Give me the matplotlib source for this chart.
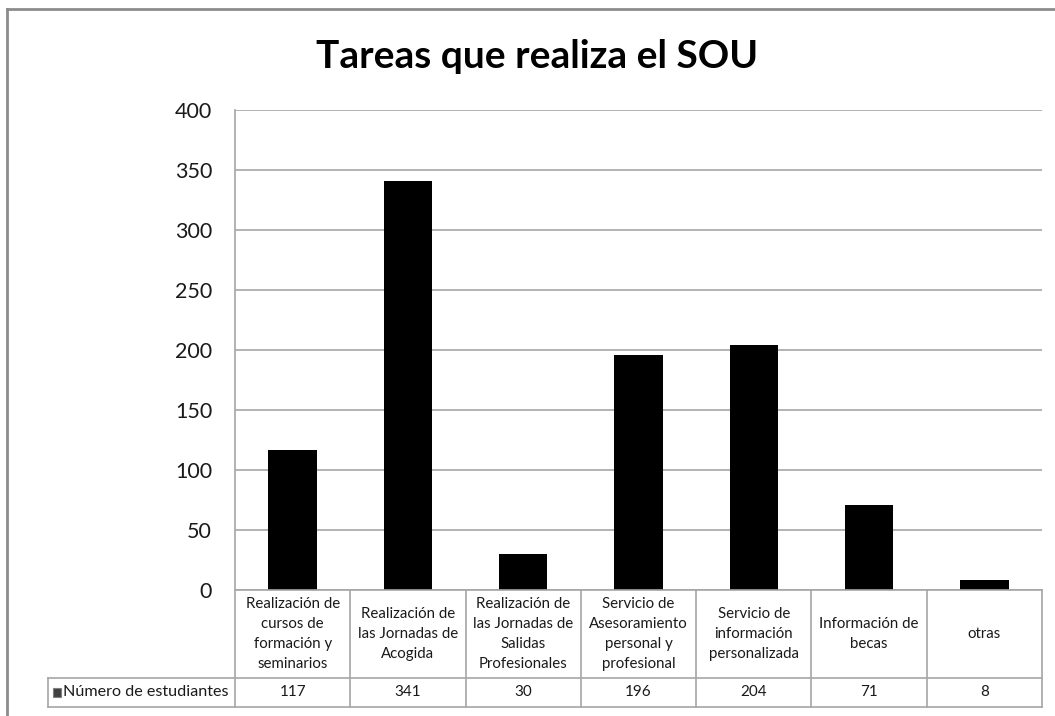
import matplotlib
matplotlib.use('Agg')
import matplotlib.pyplot as plt
from matplotlib.lines import Line2D
from matplotlib.patches import Rectangle
import numpy as np

plt.rcParams['font.family'] = ['Lato', 'DejaVu Sans']

titulo = 'Tareas que realiza el SOU'
categorias = ['Realización de\ncursos de\nformación y\nseminarios',
              'Realización de\nlas Jornadas de\nAcogida',
              'Realización de\nlas Jornadas de\nSalidas\nProfesionales',
              'Servicio de\nAsesoramiento\npersonal y\nprofesional',
              'Servicio de\ninformación\npersonalizada',
              'Información de\nbecas',
              'otras']
valores = [117, 341, 30, 196, 204, 71, 8]
serie = 'Número de estudiantes'
yticks = [0, 50, 100, 150, 200, 250, 300, 350, 400]

W, H = 1055, 716
fig = plt.figure(figsize=(W / 100, H / 100), dpi=100)

def fx(px):
    return px / W

def fy(py):
    return 1 - py / H

grid_c = '#a6a6a6'
txt_c = '#1a1a1a'
n = len(valores)

# outer chart frame
fig.add_artist(Line2D([fx(7), fx(7)], [fy(9), 0], color='#8c8c8c', lw=2))
fig.add_artist(Line2D([fx(7), 1], [fy(9), fy(9)], color='#8c8c8c', lw=2))

ax = fig.add_axes([fx(235), fy(590), fx(1042) - fx(235), fy(110) - fy(590)])
x = np.arange(n) + 0.5
ax.bar(x, valores, width=0.42, color='black', zorder=3)
ax.set_xlim(0, n)
ax.set_ylim(0, 400)
ax.set_yticks(yticks)
ax.set_yticklabels([str(t) for t in yticks], fontsize=15.5, color=txt_c)
ax.set_xticks([])
ax.tick_params(axis='y', length=0, pad=16.5)
for t in yticks:
    ax.axhline(t, color=grid_c, lw=1.2, zorder=1)
for s in ['top', 'right', 'bottom']:
    ax.spines[s].set_visible(False)
ax.spines['left'].set_color(grid_c)
ax.spines['left'].set_linewidth(1.2)

fig.text(fx(537), fy(56), titulo, ha='center', va='center',
         fontsize=28, fontweight='bold', color='black')

# data table below the plot
tb = fig.add_axes([fx(235), fy(707), fx(1042) - fx(235), fy(590) - fy(707)])
tb.set_xlim(0, n)
tb.set_ylim(0, 1)
tb.axis('off')
row = (707 - 678) / (707 - 590)
lab_left = -(235 - 48) / ((1042 - 235) / n)
kw = dict(color=grid_c, lw=1.2, clip_on=False)
for i in range(n + 1):
    tb.plot([i, i], [0, 1], **kw)
tb.plot([0, n], [1, 1], **kw)
tb.plot([lab_left, n], [row, row], **kw)
tb.plot([lab_left, n], [0, 0], **kw)
tb.plot([lab_left, lab_left], [0, row], **kw)

for i, (c, v) in enumerate(zip(categorias, valores)):
    tb.text(i + 0.5, (1 + row) / 2, c, ha='center', va='center',
            fontsize=10.8, linespacing=1.55, color=txt_c)
    tb.text(i + 0.5, row / 2, str(v), ha='center', va='center',
            fontsize=11, color=txt_c)

tb.add_patch(Rectangle((lab_left + 0.045, row / 2 - 0.035), 0.065, 0.07,
                       facecolor='#404040', edgecolor='#808080', lw=0.8, clip_on=False))
tb.text(lab_left + 0.13, row / 2, serie, ha='left', va='center',
        fontsize=11.6, color=txt_c)

fig.savefig('out.png', dpi=100)
